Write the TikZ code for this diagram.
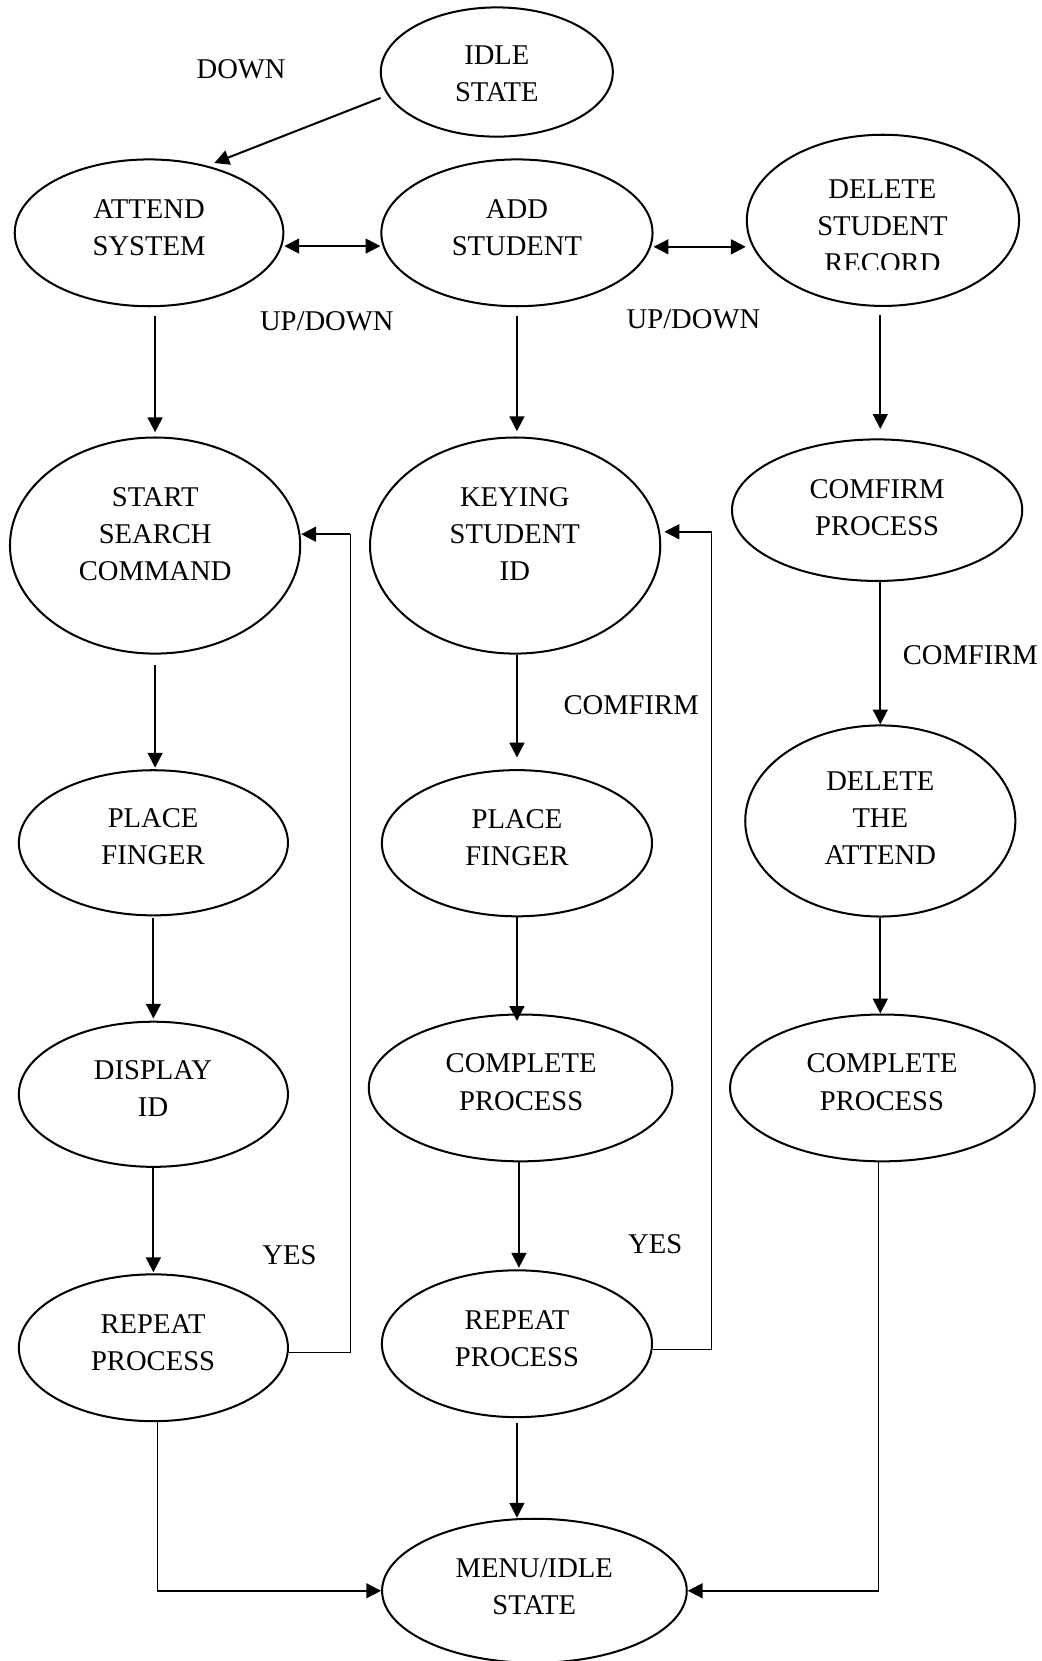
\documentclass[tikz,border=0pt]{standalone}
\usepackage{fontspec}
\setmainfont{Liberation Serif}
\usetikzlibrary{shapes.geometric,arrows.meta,calc}

\tikzset{
  state/.style={ellipse, draw, line width=1.9pt, inner sep=0pt},
  txt/.style={align=center, inner sep=0pt, font=\fontsize{27}{35}\selectfont},
  arr/.style={line width=1.9pt, -{Triangle[length=14pt,width=14pt]}},
  dbl/.style={line width=1.9pt, {Triangle[length=14pt,width=14pt]}-{Triangle[length=14pt,width=14pt]}},
  fb/.style={line width=0.9pt},
}

\begin{document}
\begin{tikzpicture}[x=1pt, y=-1pt]
\useasboundingbox (0,0) rectangle (983,1568);

% ---- states (outlines) ----
\node[state, minimum width=219pt,   minimum height=122pt]   (idle)   at (469,68)      {};
\node[state, minimum width=253.6pt, minimum height=138.6pt] (attend) at (140.7,219.8) {};
\node[state, minimum width=256pt,   minimum height=138.6pt] (add)    at (488,219.8)   {};
\node[state, minimum width=257pt,   minimum height=161.6pt] (delete) at (833.5,208)   {};
\node[state, minimum width=274pt,   minimum height=204pt]   (start)  at (146.4,515)   {};
\node[state, minimum width=274pt,   minimum height=204pt]   (keying) at (486.3,515)   {};
\node[state, minimum width=274pt,   minimum height=133.6pt] (cp)     at (828,481.6)   {};
\node[state, minimum width=254pt,   minimum height=137pt]   (pf1)    at (144.8,795.6) {};
\node[state, minimum width=255pt,   minimum height=138pt]   (pf2)    at (488,796)     {};
\node[state, minimum width=255pt,   minimum height=180.4pt] (dta)    at (831,775)     {};
\node[state, minimum width=254pt,   minimum height=137pt]   (disp)   at (144.8,1033)  {};
\node[state, minimum width=286.6pt, minimum height=138.6pt] (comp2)  at (491.4,1027)  {};
\node[state, minimum width=287.6pt, minimum height=138.6pt] (comp3)  at (833,1027)    {};
\node[state, minimum width=254pt,   minimum height=138.6pt] (rep1)   at (144.8,1272.3){};
\node[state, minimum width=255pt,   minimum height=138.6pt] (rep2)   at (488,1268.5)  {};
\node[state, minimum width=287.6pt, minimum height=136pt]   (menu)   at (504.5,1501.7){};

% ---- state texts ----
\node[txt] (idle-t)   at (469,70)      {IDLE\\STATE};
\node[txt] (attend-t) at (140.7,215.3) {ATTEND\\SYSTEM};
\node[txt] (add-t)    at (488,215.3)   {ADD\\STUDENT};
\begin{scope}
  \clip (700,120) rectangle (970,254.5);
  \node[txt] (delete-t) at (833,213.4) {DELETE\\STUDENT\\RECORD};
\end{scope}
\node[txt] (start-t)  at (146.5,504.3) {START\\SEARCH\\COMMAND};
\node[txt] (keying-t) at (486,504.3)   {KEYING\\STUDENT\\ID};
\node[txt] (cp-t)     at (828,479.2)   {COMFIRM\\PROCESS};
\node[txt] (pf1-t)    at (144.5,790)   {PLACE\\FINGER};
\node[txt] (pf2-t)    at (488,790.5)   {PLACE\\FINGER};
\node[txt] (dta-t)    at (831,772.5)   {DELETE\\THE\\ATTEND};
\node[txt] (disp-t)   at (144.5,1028)  {DISPLAY\\ID};
\node[txt] (comp2-t)  at (492,1021.6)  {COMPLETE\\PROCESS};
\node[txt] (comp3-t)  at (832.6,1021.6){COMPLETE\\PROCESS};
\node[txt] (rep1-t)   at (144.5,1267.2){REPEAT\\PROCESS};
\node[txt] (rep2-t)   at (488,1263.3)  {REPEAT\\PROCESS};
\node[txt] (menu-t)   at (504.3,1497.5){MENU/IDLE\\STATE};

% ---- transition labels ----
\node[txt] (l-down)  at (227.6,65.8)  {DOWN};
\node[txt] (l-ud1)   at (308.5,303)   {UP/DOWN};
\node[txt] (l-ud2)   at (654.6,301)   {UP/DOWN};
\node[txt] (l-cf1)   at (595.8,665.7) {COMFIRM};
\node[txt] (l-cf2)   at (916,618.5)   {COMFIRM};
\node[txt] (l-yes1)  at (273.2,1184.6){YES};
\node[txt] (l-yes2)  at (618.5,1174.4){YES};

% ---- menu navigation ----
\draw[arr, shorten <=7pt, shorten >=7pt] (idle.192) -- (attend.49);
\draw[dbl] ([yshift=-12.5pt]attend.east) -- ([yshift=-12.5pt]add.west);
\draw[dbl] ([yshift=-13.2pt]add.east) coordinate (ad) -- (ad -| delete.west);

% ---- attendance column ----
\draw[arr, shorten <=8pt, shorten >=4pt] (start.north |- attend.south) -- (start.north);
\draw[arr, shorten <=10pt, shorten >=1.5pt] (start.south) -- (start.south |- pf1.north);
\draw[arr, shorten <=1.5pt, shorten >=2pt] (pf1.south) -- (pf1.south |- disp.north);
\draw[arr, shorten >=1pt] (disp.south) -- (disp.south |- rep1.north);

% ---- add student column ----
\draw[arr, shorten <=8pt, shorten >=5pt] (add.south) -- (add.south |- keying.north);
\draw[arr, shorten >=11pt] (pf2.north |- keying.south) -- (pf2.north);
\draw[arr, shorten >=-7pt] (pf2.south) -- (pf2.south |- comp2.north);
\coordinate (c2b) at ([xshift=-1.5pt]comp2.south);
\draw[arr, shorten >=1.5pt] (c2b) -- (c2b |- rep2.north);
\draw[arr, shorten <=5pt] (rep2.south) -- (rep2.south |- menu.north);

% ---- delete column ----
\coordinate (db) at ([xshift=-2.5pt]delete.south);
\draw[arr, shorten <=8pt, shorten >=9pt] (db) -- (db |- cp.north);
\draw[arr] (dta.north |- cp.south) -- (dta.north);
\draw[arr] (dta.south) -- (dta.south |- comp3.north);

% ---- repeat loops ----
\coordinate (s1) at ([yshift=10.7pt]start.east);
\draw[fb] ([yshift=-4.7pt]rep1.east) -- ++(58,0) coordinate (c1) -- (c1 |- s1);
\draw[arr] (c1 |- s1) -- (s1);
\coordinate (s2) at ([yshift=13pt]keying.east);
\draw[fb] ([yshift=-5pt]rep2.east) -- ++(55.5,0) coordinate (c2) -- (c2 |- s2);
\draw[arr, shorten >=3pt] (c2 |- s2) -- (s2);

% ---- return to menu ----
\coordinate (r1b) at ([xshift=3.5pt]rep1.south);
\draw[fb] (r1b) -- (r1b |- menu.west) coordinate (m1);
\draw[arr] (m1) -- (menu.west);
\coordinate (c3b) at ([xshift=-3.3pt]comp3.south);
\draw[fb] (c3b) -- (c3b |- menu.east) coordinate (m2);
\draw[arr] (m2) -- (menu.east);
\end{tikzpicture}
\end{document}
